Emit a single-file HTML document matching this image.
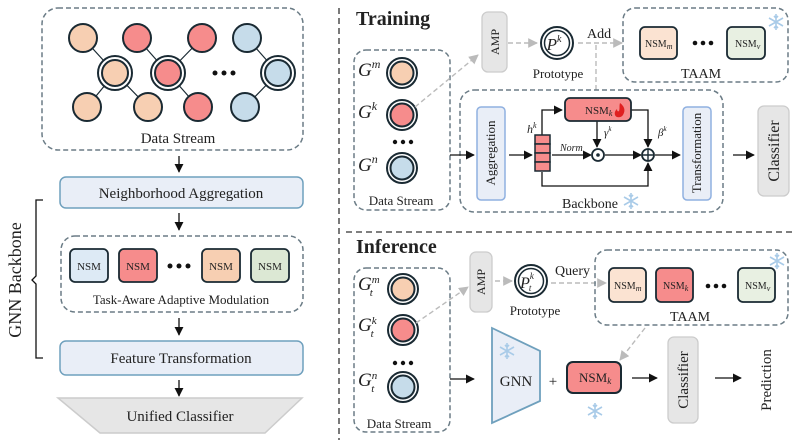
<!DOCTYPE html>
<html><head><meta charset="utf-8"><style>
html,body{margin:0;padding:0;background:#fff}
svg{display:block}
text{font-family:"Liberation Serif",serif;fill:#222}
</style></head><body>
<svg width="798" height="440" viewBox="0 0 798 440" xmlns="http://www.w3.org/2000/svg">
<defs>
<marker id="a" viewBox="0 0 10 10" refX="9" refY="5" markerWidth="7" markerHeight="7" orient="auto"><path d="M0,0L10,5L0,10z" fill="#111"/></marker>
<marker id="g" viewBox="0 0 10 10" refX="9" refY="5" markerWidth="7" markerHeight="7" orient="auto"><path d="M0,0L10,5L0,10z" fill="#bbb"/></marker>
<g id="snow" stroke="#a9cbe8" stroke-width="1.6" fill="none"><path d="M0,-8V8M-7,-4L7,4M-7,4L7,-4M-2,-6L0,-4L2,-6M-2,6L0,4L2,6"/></g>
</defs>
<!-- LEFT -->
<rect x="42" y="8" width="261" height="142" rx="16" fill="none" stroke="#6b7c86" stroke-width="1.5" stroke-dasharray="5,3"/>
<g stroke="#1a2a33" stroke-width="1.2">
<line x1="83" y1="38" x2="115" y2="73"/><line x1="87" y1="107" x2="115" y2="73"/><line x1="148" y1="107" x2="115" y2="73"/>
<line x1="137" y1="38" x2="168" y2="73"/><line x1="202" y1="38" x2="168" y2="73"/><line x1="198" y1="107" x2="168" y2="73"/>
<line x1="247" y1="38" x2="278" y2="73"/><line x1="245" y1="107" x2="278" y2="73"/>
</g>
<g stroke="#1a2a33" stroke-width="2">
<circle cx="83" cy="38" r="14" fill="#f7cfb2"/><circle cx="137" cy="38" r="14" fill="#f68c8c"/><circle cx="202" cy="38" r="14" fill="#f68c8c"/><circle cx="247" cy="38" r="14" fill="#c6dcea"/>
<circle cx="87" cy="107" r="14" fill="#f7cfb2"/><circle cx="148" cy="107" r="14" fill="#f7cfb2"/><circle cx="198" cy="107" r="14" fill="#f68c8c"/><circle cx="245" cy="107" r="14" fill="#c6dcea"/>
<circle cx="115" cy="73" r="17" fill="#fff"/><circle cx="115" cy="73" r="13" fill="#f7cfb2"/>
<circle cx="168" cy="73" r="17" fill="#fff"/><circle cx="168" cy="73" r="13" fill="#f68c8c"/>
<circle cx="278" cy="73" r="17" fill="#fff"/><circle cx="278" cy="73" r="13" fill="#c6dcea"/>
</g>
<g fill="#111"><circle cx="215" cy="73" r="2.5"/><circle cx="224" cy="73" r="2.5"/><circle cx="233" cy="73" r="2.5"/></g>
<text x="178" y="143" font-size="15" text-anchor="middle">Data Stream</text>
<g stroke="#111" stroke-width="1.3" marker-end="url(#a)"><line x1="179" y1="156" x2="179" y2="172"/><line x1="179" y1="213" x2="179" y2="230"/><line x1="179" y1="318" x2="179" y2="335"/><line x1="179" y1="380" x2="179" y2="396"/></g>
<rect x="60" y="177" width="243" height="31" rx="6" fill="#e9eef7" stroke="#6fa0bd" stroke-width="1.5"/>
<text x="181" y="198" font-size="15" text-anchor="middle">Neighborhood Aggregation</text>
<rect x="61" y="236" width="242" height="76" rx="14" fill="none" stroke="#6b7c86" stroke-width="1.5" stroke-dasharray="5,3"/>
<g stroke="#1a2a33" stroke-width="1.8">
<rect x="70" y="249" width="38" height="33" rx="5" fill="#ddeaf5"/><rect x="119" y="249" width="38" height="33" rx="5" fill="#f68c8c"/>
<rect x="202" y="249" width="38" height="33" rx="5" fill="#f7cfb2"/><rect x="251" y="249" width="38" height="33" rx="5" fill="#dce8d4"/>
</g>
<g font-size="11" text-anchor="middle"><text x="89" y="270">NSM</text><text x="138" y="270">NSM</text><text x="221" y="270">NSM</text><text x="270" y="270">NSM</text></g>
<g fill="#111"><circle cx="170" cy="266" r="2.5"/><circle cx="179" cy="266" r="2.5"/><circle cx="188" cy="266" r="2.5"/></g>
<text x="181" y="304" font-size="13" text-anchor="middle">Task-Aware Adaptive Modulation</text>
<rect x="60" y="341" width="243" height="34" rx="6" fill="#e9eef7" stroke="#6fa0bd" stroke-width="1.5"/>
<text x="181" y="363" font-size="15" text-anchor="middle">Feature Transformation</text>
<path d="M58,398H302L265,433H100z" fill="#e6e6e6" stroke="#ccc" stroke-width="1.5"/>
<text x="180" y="421" font-size="15" text-anchor="middle">Unified Classifier</text>
<path d="M43,200H36V276L32,280L36,284V358H43" fill="none" stroke="#111" stroke-width="1.3"/>
<text transform="translate(21,280) rotate(-90)" font-size="18" text-anchor="middle">GNN Backbone</text>
<line x1="339" y1="8" x2="339" y2="440" stroke="#333" stroke-width="1.3" stroke-dasharray="6,4"/>
<!-- TRAINING -->
<text x="356" y="25" font-size="20" font-weight="bold" fill="#111">Training</text>
<rect x="354" y="50" width="96" height="160" rx="12" fill="none" stroke="#6b7c86" stroke-width="1.5" stroke-dasharray="5,3"/>
<g stroke="#1a2a33" stroke-width="2">
<circle cx="402" cy="73" r="15" fill="#fff"/><circle cx="402" cy="73" r="11.5" fill="#f7cfb2"/>
<circle cx="402" cy="115" r="15" fill="#fff"/><circle cx="402" cy="115" r="11.5" fill="#f68c8c"/>
<circle cx="402" cy="168" r="15" fill="#fff"/><circle cx="402" cy="168" r="11.5" fill="#c6dcea"/>
</g>
<g font-size="19" font-style="italic"><text x="358" y="76">G<tspan font-size="12" dy="-8">m</tspan></text><text x="358" y="118">G<tspan font-size="12" dy="-8">k</tspan></text><text x="358" y="171">G<tspan font-size="12" dy="-8">n</tspan></text></g>
<g fill="#111"><circle cx="395" cy="142" r="2.2"/><circle cx="403" cy="142" r="2.2"/><circle cx="411" cy="142" r="2.2"/></g>
<text x="401" y="205" font-size="13" text-anchor="middle">Data Stream</text>
<g stroke="#bbb" stroke-width="1.4" stroke-dasharray="5,3" fill="none">
<line x1="415" y1="107" x2="478" y2="55" marker-end="url(#g)"/>
<line x1="508" y1="43" x2="537" y2="43" marker-end="url(#g)"/>
<line x1="578" y1="43" x2="622" y2="43" marker-end="url(#g)"/>
<line x1="596" y1="45" x2="596" y2="90"/>
</g>
<rect x="482" y="12" width="25" height="60" rx="6" fill="#e6e6e6" stroke="#ccc" stroke-width="1.3"/>
<text transform="translate(499,42) rotate(-90)" font-size="12" text-anchor="middle">AMP</text>
<circle cx="557" cy="43" r="16" fill="#fff" stroke="#1a2a33" stroke-width="2"/><circle cx="557" cy="43" r="12.5" fill="#fff" stroke="#1a2a33" stroke-width="1.5"/>
<text x="554" y="50" font-size="17" font-style="italic" text-anchor="middle">P<tspan font-size="10" dy="-8">k</tspan></text>
<text x="558" y="78" font-size="13" text-anchor="middle">Prototype</text>
<text x="587" y="38" font-size="14">Add</text>
<rect x="623" y="8" width="165" height="74" rx="12" fill="none" stroke="#6b7c86" stroke-width="1.5" stroke-dasharray="5,3"/>
<rect x="640" y="27" width="37" height="32" rx="5" fill="#fbe3d2" stroke="#1a2a33" stroke-width="1.8"/>
<rect x="727" y="27" width="38" height="32" rx="5" fill="#e8f0e2" stroke="#1a2a33" stroke-width="1.8"/>
<text x="645" y="47" font-size="10">NSM<tspan font-size="8" font-style="italic" dy="2">m</tspan></text>
<text x="735" y="47" font-size="10">NSM<tspan font-size="8" font-style="italic" dy="2">v</tspan></text>
<g fill="#111"><circle cx="695" cy="43" r="2.3"/><circle cx="703" cy="43" r="2.3"/><circle cx="711" cy="43" r="2.3"/></g>
<text x="701" y="78" font-size="14" text-anchor="middle">TAAM</text>
<use href="#snow" x="776" y="22"/>
<rect x="460" y="90" width="263" height="122" rx="14" fill="none" stroke="#6b7c86" stroke-width="1.5" stroke-dasharray="5,3"/>
<rect x="477" y="107" width="28" height="93" rx="4" fill="#e9eef7" stroke="#8fb0e0" stroke-width="1.5"/>
<text transform="translate(495,153) rotate(-90)" font-size="13" text-anchor="middle">Aggregation</text>
<rect x="683" y="107" width="28" height="93" rx="4" fill="#e9eef7" stroke="#8fb0e0" stroke-width="1.5"/>
<text transform="translate(701,153) rotate(-90)" font-size="13" text-anchor="middle">Transformation</text>
<rect x="758" y="106" width="31" height="90" rx="6" fill="#e6e6e6" stroke="#ccc" stroke-width="1.3"/>
<text transform="translate(779,151) rotate(-90)" font-size="16" text-anchor="middle">Classifier</text>
<text x="590" y="208" font-size="14" text-anchor="middle">Backbone</text>
<use href="#snow" x="631" y="201"/>
<g stroke="#111" stroke-width="1.3" fill="none">
<line x1="450" y1="155" x2="474" y2="155" marker-end="url(#a)"/>
<line x1="509" y1="155" x2="532" y2="155" marker-end="url(#a)"/>
<line x1="552" y1="155" x2="591" y2="155" marker-end="url(#a)"/>
<line x1="605" y1="155" x2="641" y2="155" marker-end="url(#a)"/>
<line x1="655" y1="155" x2="680" y2="155" marker-end="url(#a)"/>
<line x1="733" y1="155" x2="754" y2="155" marker-end="url(#a)"/>
<path d="M542,135V110H562" marker-end="url(#a)"/>
<path d="M597,121V147" marker-end="url(#a)"/>
<path d="M631,110H648V147" marker-end="url(#a)"/>
<path d="M542,172V186H648V163" marker-end="url(#a)"/>
</g>
<rect x="565" y="98" width="66" height="23" rx="5" fill="#f68c8c" stroke="#1a2a33" stroke-width="1.8"/>
<text x="585" y="114" font-size="11">NSM<tspan font-size="8" font-style="italic" dy="2">k</tspan></text>
<path d="M620,103c4,3 6,7 3,12c-2,3-7,3-8,0c-1-3 1-5 2-6c0,2 1,3 2,2c1-3 0-5 1-8z" fill="#e02020"/>
<g stroke="#1a2a33" stroke-width="1.5" fill="#f68c8c"><rect x="535" y="135" width="15" height="9"/><rect x="535" y="144" width="15" height="9"/><rect x="535" y="153" width="15" height="9"/><rect x="535" y="162" width="15" height="9"/></g>
<text x="527" y="133" font-size="12" font-style="italic">h<tspan font-size="8" dy="-5">k</tspan></text>
<text x="560" y="151" font-size="10" font-style="italic">Norm</text>
<circle cx="598" cy="155" r="6" fill="#fff" stroke="#1a2a33" stroke-width="1.8"/><circle cx="598" cy="155" r="1.8" fill="#1a2a33"/>
<circle cx="648" cy="155" r="6" fill="#fff" stroke="#1a2a33" stroke-width="1.8"/><path d="M642,155H654M648,149V161" stroke="#1a2a33" stroke-width="1.4"/>
<text x="604" y="136" font-size="11" font-style="italic">γ<tspan font-size="7" dy="-5">k</tspan></text>
<text x="658" y="136" font-size="11" font-style="italic">β<tspan font-size="7" dy="-5">k</tspan></text>
<line x1="346" y1="232" x2="795" y2="232" stroke="#333" stroke-width="1.3" stroke-dasharray="6,4"/>
<!-- INFERENCE -->
<text x="356" y="253" font-size="20" font-weight="bold" fill="#111">Inference</text>
<rect x="354" y="268" width="96" height="164" rx="12" fill="none" stroke="#6b7c86" stroke-width="1.5" stroke-dasharray="5,3"/>
<g stroke="#1a2a33" stroke-width="2">
<circle cx="403" cy="289" r="15" fill="#fff"/><circle cx="403" cy="289" r="11.5" fill="#f7cfb2"/>
<circle cx="403" cy="330" r="15" fill="#fff"/><circle cx="403" cy="330" r="11.5" fill="#f68c8c"/>
<circle cx="403" cy="387" r="15" fill="#fff"/><circle cx="403" cy="387" r="11.5" fill="#c6dcea"/>
</g>
<g font-size="19" font-style="italic"><text x="358" y="290">G<tspan font-size="11" dy="-7">m</tspan><tspan font-size="11" dx="-10" dy="13">t</tspan></text><text x="358" y="331">G<tspan font-size="11" dy="-7">k</tspan><tspan font-size="11" dx="-6" dy="13">t</tspan></text><text x="358" y="386">G<tspan font-size="11" dy="-7">n</tspan><tspan font-size="11" dx="-6" dy="13">t</tspan></text></g>
<g fill="#111"><circle cx="395" cy="363" r="2.2"/><circle cx="403" cy="363" r="2.2"/><circle cx="411" cy="363" r="2.2"/></g>
<text x="399" y="428" font-size="13" text-anchor="middle">Data Stream</text>
<g stroke="#bbb" stroke-width="1.4" stroke-dasharray="5,3" fill="none">
<line x1="416" y1="323" x2="468" y2="287" marker-end="url(#g)"/>
<line x1="495" y1="281" x2="512" y2="281" marker-end="url(#g)"/>
<line x1="551" y1="283" x2="606" y2="283" marker-end="url(#g)"/>
<line x1="645" y1="328" x2="620" y2="360" marker-end="url(#g)"/>
</g>
<rect x="470" y="252" width="22" height="60" rx="6" fill="#e6e6e6" stroke="#ccc" stroke-width="1.3"/>
<text transform="translate(485,282) rotate(-90)" font-size="12" text-anchor="middle">AMP</text>
<circle cx="531" cy="281" r="16" fill="#fff" stroke="#1a2a33" stroke-width="2"/><circle cx="531" cy="281" r="12.5" fill="#fff" stroke="#1a2a33" stroke-width="1.5"/>
<text x="527" y="288" font-size="16" font-style="italic" text-anchor="middle">P<tspan font-size="9" dy="-9">k</tspan><tspan font-size="9" dx="-5" dy="12">t</tspan></text>
<text x="535" y="315" font-size="13" text-anchor="middle">Prototype</text>
<text x="555" y="275" font-size="14">Query</text>
<rect x="595" y="250" width="193" height="75" rx="12" fill="none" stroke="#6b7c86" stroke-width="1.5" stroke-dasharray="5,3"/>
<rect x="609" y="268" width="37" height="34" rx="5" fill="#fbe3d2" stroke="#1a2a33" stroke-width="1.8"/>
<rect x="656" y="268" width="37" height="34" rx="5" fill="#f68c8c" stroke="#1a2a33" stroke-width="1.8"/>
<rect x="738" y="268" width="37" height="34" rx="5" fill="#e8f0e2" stroke="#1a2a33" stroke-width="1.8"/>
<text x="614" y="289" font-size="10">NSM<tspan font-size="8" font-style="italic" dy="2">m</tspan></text>
<text x="663" y="289" font-size="10">NSM<tspan font-size="8" font-style="italic" dy="2">k</tspan></text>
<text x="745" y="289" font-size="10">NSM<tspan font-size="8" font-style="italic" dy="2">v</tspan></text>
<g fill="#111"><circle cx="708" cy="286" r="2.3"/><circle cx="716" cy="286" r="2.3"/><circle cx="724" cy="286" r="2.3"/></g>
<text x="690" y="321" font-size="14" text-anchor="middle">TAAM</text>
<use href="#snow" x="777" y="261"/>
<path d="M492,328L540,351V401L492,423z" fill="#e9eef7" stroke="#6fa0bd" stroke-width="1.8"/>
<use href="#snow" x="507" y="351"/>
<text x="516" y="386" font-size="15" text-anchor="middle">GNN</text>
<text x="553" y="386" font-size="15" text-anchor="middle">+</text>
<rect x="567" y="362" width="54" height="31" rx="6" fill="#f68c8c" stroke="#1a2a33" stroke-width="2"/>
<text x="579" y="382" font-size="13">NSM<tspan font-size="9" font-style="italic" dy="2">k</tspan></text>
<use href="#snow" x="595" y="411"/>
<rect x="668" y="337" width="30" height="86" rx="6" fill="#e6e6e6" stroke="#ccc" stroke-width="1.3"/>
<text transform="translate(688,380) rotate(-90)" font-size="15" text-anchor="middle">Classifier</text>
<text transform="translate(771,380) rotate(-90)" font-size="15" text-anchor="middle">Prediction</text>
<g stroke="#111" stroke-width="1.3">
<line x1="450" y1="379" x2="474" y2="379" marker-end="url(#a)"/>
<line x1="632" y1="378" x2="657" y2="378" marker-end="url(#a)"/>
<line x1="715" y1="378" x2="741" y2="378" marker-end="url(#a)"/>
</g>
</svg>
</body></html>
